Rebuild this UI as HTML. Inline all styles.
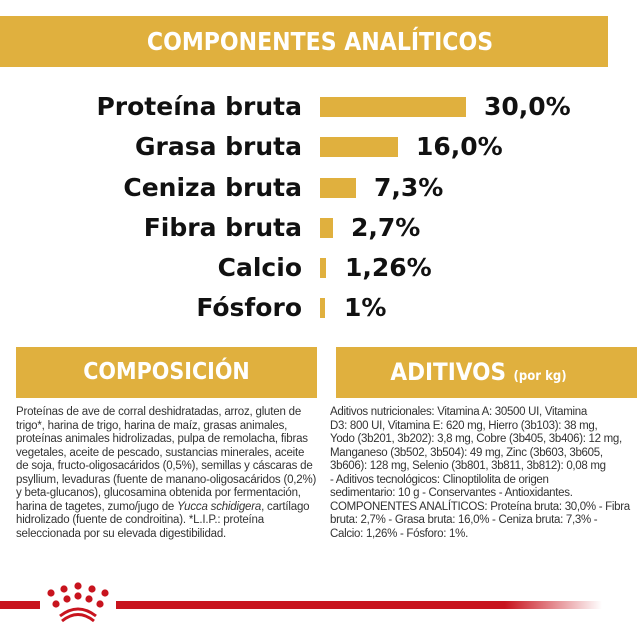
<!DOCTYPE html>
<html><head><meta charset="utf-8"><style>
body{margin:0;width:640px;height:640px;background:#fff;position:relative;overflow:hidden;font-family:"Liberation Sans",sans-serif}
.ban{position:absolute;background:#e0b03e;color:#fff;font-weight:bold;text-align:center;font-family:"DejaVu Sans Condensed","DejaVu Sans","Liberation Sans",sans-serif}
.lab{position:absolute;right:338px;font-weight:bold;font-size:25px;color:#111;line-height:30px;font-family:"DejaVu Sans","Liberation Sans",sans-serif}
.val{position:absolute;font-weight:bold;font-size:25px;color:#111;line-height:30px;font-family:"DejaVu Sans","Liberation Sans",sans-serif}
.bar{position:absolute;left:320px;height:20px;background:#e0b03e}
.txt{position:absolute;top:406px;font-size:11.5px;line-height:13.5px;color:#333;font-family:"Liberation Sans",sans-serif;letter-spacing:-0.2px;white-space:nowrap}
</style></head><body>
<div class="ban" style="left:0;top:16px;width:608px;height:51px;line-height:51px;font-size:24.5px"><span style="position:relative;left:16px">COMPONENTES ANALÍTICOS</span></div>

<div class="lab" style="top:92px">Proteína bruta</div><div class="bar" style="top:97px;width:146px"></div><div class="val" style="left:484px;top:92px">30,0%</div>
<div class="lab" style="top:132px">Grasa bruta</div><div class="bar" style="top:137px;width:78px"></div><div class="val" style="left:416px;top:132px">16,0%</div>
<div class="lab" style="top:173px">Ceniza bruta</div><div class="bar" style="top:178px;width:36px"></div><div class="val" style="left:374px;top:173px">7,3%</div>
<div class="lab" style="top:213px">Fibra bruta</div><div class="bar" style="top:218px;width:13px"></div><div class="val" style="left:351px;top:213px">2,7%</div>
<div class="lab" style="top:253px">Calcio</div><div class="bar" style="top:258px;width:6px"></div><div class="val" style="left:345px;top:253px">1,26%</div>
<div class="lab" style="top:293px">Fósforo</div><div class="bar" style="top:298px;width:5px"></div><div class="val" style="left:344px;top:293px">1%</div>

<div class="ban" style="left:16px;top:347px;width:301px;height:51px;line-height:51px;font-size:23px">COMPOSICIÓN</div>
<div class="ban" style="left:336px;top:347px;width:301px;height:51px;line-height:51px;font-size:24px"><span style="position:relative;left:-8px">ADITIVOS <span style="font-size:13px">(por kg)</span></span></div>

<div class="txt" style="left:16px">Proteínas de ave de corral deshidratadas, arroz, gluten de<br>trigo*, harina de trigo, harina de maíz, grasas animales,<br>proteínas animales hidrolizadas, pulpa de remolacha, fibras<br>vegetales, aceite de pescado, sustancias minerales, aceite<br>de soja, fructo-oligosacáridos (0,5%), semillas y cáscaras de<br>psyllium, levaduras (fuente de manano-oligosacáridos (0,2%)<br>y beta-glucanos), glucosamina obtenida por fermentación,<br>harina de tagetes, zumo/jugo de <i>Yucca schidigera</i>, cartílago<br>hidrolizado (fuente de condroitina). *L.I.P.: proteína<br>seleccionada por su elevada digestibilidad.</div>
<div class="txt" style="left:330px;letter-spacing:-0.3px">Aditivos nutricionales: Vitamina A: 30500 UI, Vitamina<br>D3: 800 UI, Vitamina E: 620 mg, Hierro (3b103): 38 mg,<br>Yodo (3b201, 3b202): 3,8 mg, Cobre (3b405, 3b406): 12 mg,<br>Manganeso (3b502, 3b504): 49 mg, Zinc (3b603, 3b605,<br>3b606): 128 mg, Selenio (3b801, 3b811, 3b812): 0,08 mg<br>- Aditivos tecnológicos: Clinoptilolita de origen<br>sedimentario: 10 g - Conservantes - Antioxidantes.<br>COMPONENTES ANALÍTICOS: Proteína bruta: 30,0% - Fibra<br>bruta: 2,7% - Grasa bruta: 16,0% - Ceniza bruta: 7,3% -<br>Calcio: 1,26% - Fósforo: 1%.</div>

<div style="position:absolute;left:0;top:601px;width:40px;height:8px;background:#c8141e"></div>
<div style="position:absolute;left:116px;top:601px;width:486px;height:8px;background:linear-gradient(to right,#c8141e 0%,#c8141e 80%,rgba(200,20,30,0) 100%)"></div>
<svg style="position:absolute;left:40px;top:580px" width="76" height="45">
<g fill="#c8141e">
<circle cx="11" cy="13" r="3.6"/><circle cx="24" cy="9" r="3.6"/><circle cx="38" cy="6" r="3.6"/><circle cx="52" cy="9" r="3.6"/><circle cx="65" cy="13" r="3.6"/>
<circle cx="16" cy="24" r="3.6"/><circle cx="27" cy="19" r="3.6"/><circle cx="38" cy="16" r="3.6"/><circle cx="49" cy="19" r="3.6"/><circle cx="60" cy="24" r="3.6"/>
</g>
<path d="M20 36 Q38 22 56 36" stroke="#c8141e" stroke-width="3" fill="none"/>
<path d="M22 41 Q38 28 54 41" stroke="#c8141e" stroke-width="3" fill="none"/>
</svg>
</body></html>
